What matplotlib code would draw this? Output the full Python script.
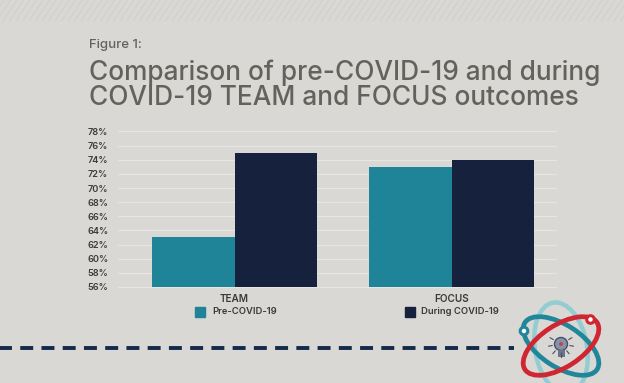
import numpy as np
import matplotlib
matplotlib.use("Agg")
import matplotlib.pyplot as plt
from matplotlib.lines import Line2D
from matplotlib.patches import Ellipse, Circle, Rectangle

plt.rcParams['font.family'] = ['Inter', 'DejaVu Sans']

# Data
categories = ["TEAM", "FOCUS"]
pre_covid = [63.1, 73]
during_covid = [75, 74]
yticks = list(range(56, 80, 2))

W, H = 624, 383
BG = "#d9d8d4"
TEAL = "#1f8497"
NAVY = "#15213d"
GREY = "#63635e"
DARK = "#3a3a3a"

fig = plt.figure(figsize=(W / 100, H / 100), dpi=100, facecolor=BG)

# overlay in pixel coords, y going down, for the decoration
deco = fig.add_axes([0, 0, 1, 1], zorder=0)
deco.set_xlim(0, W)
deco.set_ylim(H, 0)
deco.axis("off")

# stripes along the top
for x0 in np.arange(-10, W + 20, 6.5):
    deco.plot([x0, x0 + 14], [21, 0], color="#d0cfca", lw=0.7, solid_capstyle="butt")

# titles
deco.text(89, 48.3, "Figure 1:", fontsize=9.5, color=GREY, va="baseline", ha="left",
          fontweight="medium")
deco.text(89, 80, "Comparison of pre-COVID-19 and during", fontsize=18.9,
          color=GREY, va="baseline", ha="left", fontweight="medium")
deco.text(89, 105, "COVID-19 TEAM and FOCUS outcomes", fontsize=18.9,
          color=GREY, va="baseline", ha="left", fontweight="medium")

# chart
left, right, top, bottom = 118, 556, 131.5, 287
ax = fig.add_axes([left / W, 1 - bottom / H, (right - left) / W, (bottom - top) / H],
                  zorder=1, facecolor="none")
x = np.arange(len(categories))
width = 0.38
ax.bar(x - width / 2, pre_covid, width, color=TEAL, zorder=3)
ax.bar(x + width / 2, during_covid, width, color=NAVY, zorder=3)
ax.set_xlim((left - 234.5) / 217, (right - 234.5) / 217)
ax.set_ylim(56, 78)
ax.set_yticks(yticks)
ax.set_yticklabels([f"{v}%" for v in yticks], fontsize=6.6, color=DARK, fontweight="semibold")
ax.set_xticks(x)
ax.set_xticklabels(categories, fontsize=7.2, color=DARK, fontweight="semibold")
ax.tick_params(axis="both", length=0)
ax.tick_params(axis="y", pad=7)
ax.tick_params(axis="x", pad=5)
ax.grid(axis="y", color="#e6e5e1", lw=0.9, zorder=0)
for g in ax.get_ygridlines():
    g.set_clip_on(False)
for s in ax.spines.values():
    s.set_visible(False)

# legend
deco.add_patch(Rectangle((195, 306.5), 10, 10, color=TEAL))
deco.text(212, 311.5, "Pre-COVID-19", fontsize=6.8, color=DARK, va="center", fontweight="semibold")
deco.add_patch(Rectangle((405, 306.5), 10, 10, color=NAVY))
deco.text(421, 311.5, "During COVID-19", fontsize=6.8, color=DARK, va="center", fontweight="semibold")

# dashed rule
deco.add_line(Line2D([-9.6, 514], [348.3, 348.3], color="#16294a", lw=2.8,
                     dashes=(13 / 3.9, 8.3 / 3.9), dash_capstyle="butt"))

# logo
cx, cy = 561, 346
deco.add_patch(Ellipse((cx, cy + 2), 52, 92, angle=-10, fill=False, ec="#93cdd1", lw=3.2))
deco.add_patch(Ellipse((cx, cy), 86, 42, angle=33, fill=False, ec="#21869a", lw=3.4))
deco.add_patch(Ellipse((cx, cy), 86, 42, angle=-33, fill=False, ec="#cf2632", lw=3.4))
deco.add_patch(Circle((524, 331), 3.8, fc="white", ec="#21869a", lw=2.2))
deco.add_patch(Circle((590.5, 319.5), 3.8, fc="white", ec="#cf2632", lw=2.2))
deco.add_patch(Circle((cx, cy - 2), 6.5, fc="#8a93a5", ec="#44506a", lw=1))
deco.add_patch(Circle((cx, cy - 2), 2, fc="#b5485c", ec="none"))
deco.add_patch(Rectangle((cx - 3.5, cy + 4), 7, 7, fc="#6c7488", ec="none"))
for a in np.radians(np.arange(150, 400, 40)):
    deco.plot([cx + 9 * np.cos(a), cx + 12.5 * np.cos(a)],
              [cy - 2 - 9 * np.sin(a), cy - 2 - 12.5 * np.sin(a)],
              color="#44506a", lw=0.8)

fig.savefig("out.png", dpi=100, facecolor=BG)
